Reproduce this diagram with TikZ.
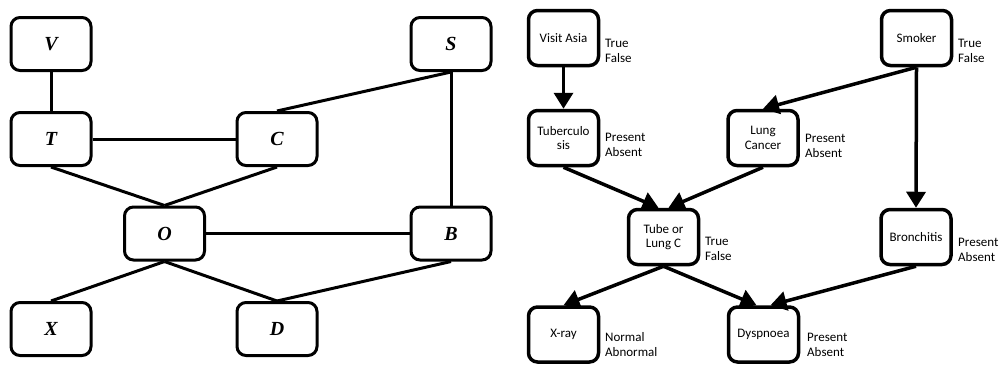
\documentclass[tikz,border=0pt]{standalone}
\usepackage{fontspec}
\usetikzlibrary{arrows.meta}
\newfontfamily\carlfont{Carlito}
\newfontfamily\tnrfont{Liberation Serif}
\newcommand{\dropt}[1]{\raisebox{-3.5pt}{#1}}
\begin{document}
\begin{tikzpicture}[x=1pt,y=-1pt,
  lbox/.style={draw=black,line width=3pt,rounded corners=9pt,minimum width=80pt,minimum height=53pt,inner sep=0pt,font=\tnrfont\bfseries\itshape\fontsize{20}{22}\selectfont},
  ledge/.style={line width=3pt},
  rbox/.style={draw=black,line width=3.5pt,rounded corners=9pt,minimum width=70pt,minimum height=55pt,inner sep=0pt,align=center,font=\carlfont\fontsize{13}{14.5}\selectfont},
  rlab/.style={anchor=west,inner sep=0pt,align=left,font=\carlfont\fontsize{13}{15}\selectfont},
  redge/.style={line width=3.5pt,-{Triangle[length=16pt,width=19pt]}}]
\useasboundingbox[fill=white] (0,0) rectangle (1000,365);
% left graph
\node[lbox] (V) at (51,44) {V};
\node[lbox] (T) at (51,139) {T};
\node[lbox] (C) at (277,139) {C};
\node[lbox] (S) at (451,44) {S};
\node[lbox] (O) at (164.5,233.5) {O};
\node[lbox] (B) at (451,233.5) {B};
\node[lbox] (X) at (51,329) {X};
\node[lbox] (D) at (277,329) {D};
\draw[ledge] (V.south) -- (T.north);
\draw[ledge] (T.east) -- (C.west);
\draw[ledge] (S.south) -- (C.north);
\draw[ledge] (S.south) -- (B.north);
\draw[ledge] (T.south) -- (O.north);
\draw[ledge] (C.south) -- (O.north);
\draw[ledge] (O.east) -- (B.west);
\draw[ledge] (O.south) -- (X.north);
\draw[ledge] (O.south) -- (D.north);
\draw[ledge] (B.south) -- (D.north);
% right graph
\node[rbox] (VA) at (563.5,38) {\dropt{Visit Asia}};
\node[rbox] (SM) at (916.5,38) {\dropt{Smoker}};
\node[rbox] (TB) at (563.5,138) {Tuberculo\\sis};
\node[rbox] (LC) at (763,138) {Lung\\Cancer};
\node[rbox] (TL) at (663.5,237) {Tube or\\Lung C};
\node[rbox] (BR) at (916,237) {\dropt{Bronchitis}};
\node[rbox] (XR) at (563.5,334.5) {\dropt{X-ray}};
\node[rbox] (DY) at (763.5,334.5) {\dropt{Dyspnoea}};
\node[rlab] (VAl) at (605,50.5) {True\\False};
\node[rlab] (SMl) at (958,50.5) {True\\False};
\node[rlab] (TBl) at (605,145) {Present\\Absent};
\node[rlab] (LCl) at (805,145.5) {Present\\Absent};
\node[rlab] (TLl) at (705,248.5) {True\\False};
\node[rlab] (BRl) at (958,249.5) {Present\\Absent};
\node[rlab] (XRl) at (605,344.5) {Normal\\Abnormal};
\node[rlab] (DYl) at (807,344.5) {Present\\Absent};
\draw[redge] (VA.south) -- (TB.north);
\draw[redge] (SM.south) -- (LC.north);
\draw[redge] (SM.south) -- (BR.north);
\draw[redge] (TB.south) -- ([xshift=-5pt]TL.north);
\draw[redge] (LC.south) -- ([xshift=5pt]TL.north);
\draw[redge] (TL.south) -- (XR.north);
\draw[redge] (TL.south) -- ([xshift=-7pt]DY.north);
\draw[redge] (BR.south) -- ([xshift=7pt]DY.north);
\end{tikzpicture}
\end{document}
